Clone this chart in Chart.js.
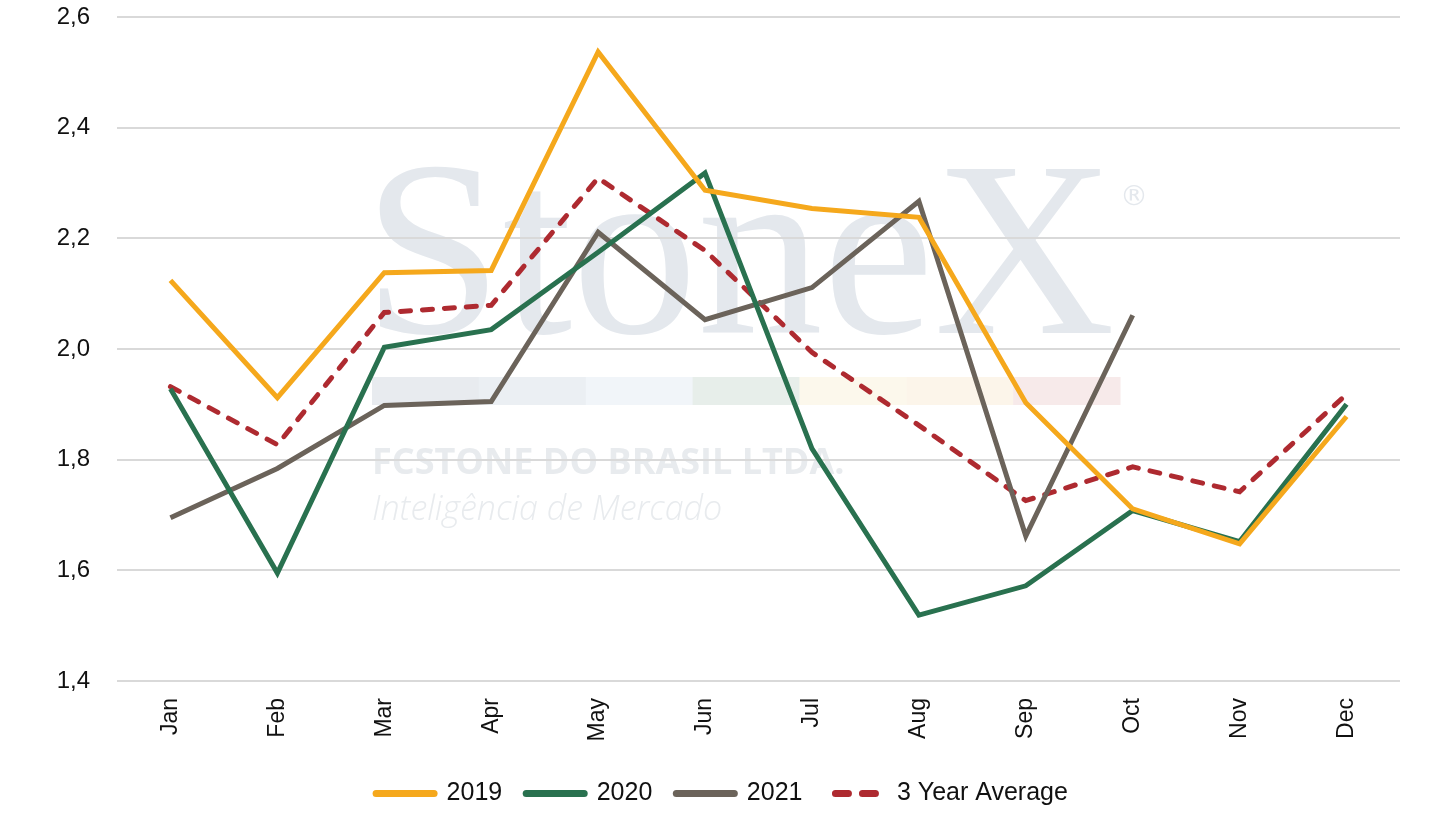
<!DOCTYPE html>
<html>
<head>
<meta charset="utf-8">
<script src="https://cdn.jsdelivr.net/npm/chart.js@4.4.1/dist/chart.umd.min.js"></script>
<style>
  html, body { margin: 0; padding: 0; background: #fff; }
  #wrap { width: 1444px; height: 828px; }
</style>
</head>
<body>
<div id="wrap"><canvas id="priceChart"></canvas></div>
<script>
const months = ['Jan', 'Feb', 'Mar', 'Apr', 'May', 'Jun', 'Jul', 'Aug', 'Sep', 'Oct', 'Nov', 'Dec'];
const values2019 = [2.124, 1.912, 2.138, 2.142, 2.537, 2.287, 2.254, 2.238, 1.903, 1.711, 1.648, 1.878];
const values2020 = [1.928, 1.595, 2.003, 2.035, 2.175, 2.318, 1.820, 1.519, 1.572, 1.708, 1.652, 1.900];
const values2021 = [1.695, 1.784, 1.898, 1.905, 2.211, 2.053, 2.111, 2.267, 1.662, 2.061, null, null];
const valuesAverage = [1.932, 1.827, 2.066, 2.079, 2.309, 2.178, 1.994, 1.862, 1.726, 1.787, 1.742, 1.918];
const yTicks = [1.4, 1.6, 1.8, 2.0, 2.2, 2.4, 2.6];

const FONT = "'Liberation Sans', Arial, sans-serif";

// faint StoneX logo behind the plot
const watermark = {
  id: 'watermark',
  beforeDraw(chart) {
    const { ctx, chartArea } = chart;
    ctx.save();
    ctx.fillStyle = '#fff';
    ctx.fillRect(0, 0, chart.width, chart.height);

    const left = chartArea.left + 255;
    const width = 748;

    ctx.fillStyle = '#e4e8ed';
    ctx.font = "250px 'Liberation Serif', 'DejaVu Serif', serif";
    ctx.textBaseline = 'alphabetic';
    const w = ctx.measureText('StoneX').width;
    ctx.save();
    ctx.translate(left - 9, chartArea.top + 316);
    ctx.scale((width + 4) / w, 1);
    ctx.fillText('StoneX', 0, 0);
    ctx.restore();

    ctx.font = "28px 'DejaVu Sans', sans-serif";
    ctx.fillText('®', left + width, chartArea.top + 188);

    const strip = ['#e8ebef', '#ebeff3', '#f1f5f9', '#e7eeea', '#fcf8ec', '#fcf5ea', '#f7eaea'];
    const sw = width / strip.length;
    strip.forEach((c, i) => {
      ctx.fillStyle = c;
      ctx.fillRect(left + i * sw, chartArea.top + 360, sw + 0.5, 28);
    });

    ctx.fillStyle = '#e8ebee';
    ctx.font = "bold 36px 'Open Sans', 'DejaVu Sans', sans-serif";
    ctx.textBaseline = 'middle';
    ctx.fillText('FCSTONE DO BRASIL LTDA.', left, chartArea.top + 447);
    ctx.font = "italic 300 34px 'Open Sans', 'DejaVu Sans', sans-serif";
    ctx.fillText('Inteligência de Mercado', left, chartArea.top + 493);
    ctx.restore();
  }
};

const lineSet = (label, data, color, dashed) => ({
  label,
  data,
  borderColor: color,
  backgroundColor: color,
  borderWidth: 5,
  borderDash: dashed ? [10, 12] : [],
  borderCapStyle: dashed ? 'round' : 'butt',
  borderJoinStyle: 'miter',
  pointRadius: 0,
  pointHoverRadius: 0,
  tension: 0,
  spanGaps: false,
  fill: false
});

new Chart(document.getElementById('priceChart'), {
  type: 'line',
  data: {
    labels: months,
    datasets: [
      lineSet('2019', values2019, '#f5a81c', false),
      lineSet('2020', values2020, '#29714f', false),
      lineSet('2021', values2021, '#6b635a', false),
      lineSet('3 Year Average', valuesAverage, '#ae2a30', true)
    ]
  },
  options: {
    responsive: true,
    maintainAspectRatio: false,
    animation: false,
    layout: { padding: { left: 0, right: 0, top: 17, bottom: 12 } },
    plugins: {
      tooltip: { enabled: false },
      legend: {
        position: 'bottom',
        labels: {
          usePointStyle: true,
          pointStyle: 'line',
          pointStyleWidth: 58,
          boxHeight: 22,
          padding: 24,
          color: '#111',
          font: { family: FONT, size: 25 },
          generateLabels(chart) {
            const items = Chart.defaults.plugins.legend.labels.generateLabels(chart);
            items.forEach(it => {
              it.lineWidth = 7;
              it.lineCap = 'round';
              if (it.text === '3 Year Average') {
                it.lineDash = [13, 14];
                it.lineDashOffset = 18;
              }
            });
            return items;
          }
        }
      }
    },
    scales: {
      x: {
        offset: true,
        grid: { display: false, drawTicks: false },
        border: { display: false },
        ticks: {
          minRotation: 90,
          maxRotation: 90,
          padding: 17,
          color: '#111',
          font: { family: FONT, size: 23 }
        },
        afterFit(scale) { scale.height = 76; }
      },
      y: {
        min: 1.4,
        max: 2.6,
        afterBuildTicks(scale) { scale.ticks = yTicks.map(v => ({ value: v })); },
        grid: { color: '#d9d9d9', lineWidth: 2, drawTicks: false },
        border: { display: false },
        ticks: {
          padding: 27,
          color: '#111',
          font: { family: FONT, size: 24 },
          callback: v => v.toFixed(1).replace('.', ',')
        },
        afterFit(scale) {
          scale.width = 117;
          scale.paddingTop = 0;
          scale.paddingBottom = 0;
        }
      },
      // empty right-hand margin so the legend centres on the whole canvas
      yRight: {
        position: 'right',
        grid: { display: false, drawTicks: false },
        border: { display: false },
        ticks: { display: false },
        afterFit(scale) {
          scale.width = 44;
          scale.paddingTop = 0;
          scale.paddingBottom = 0;
        }
      }
    }
  },
  plugins: [watermark]
});
</script>
</body>
</html>
